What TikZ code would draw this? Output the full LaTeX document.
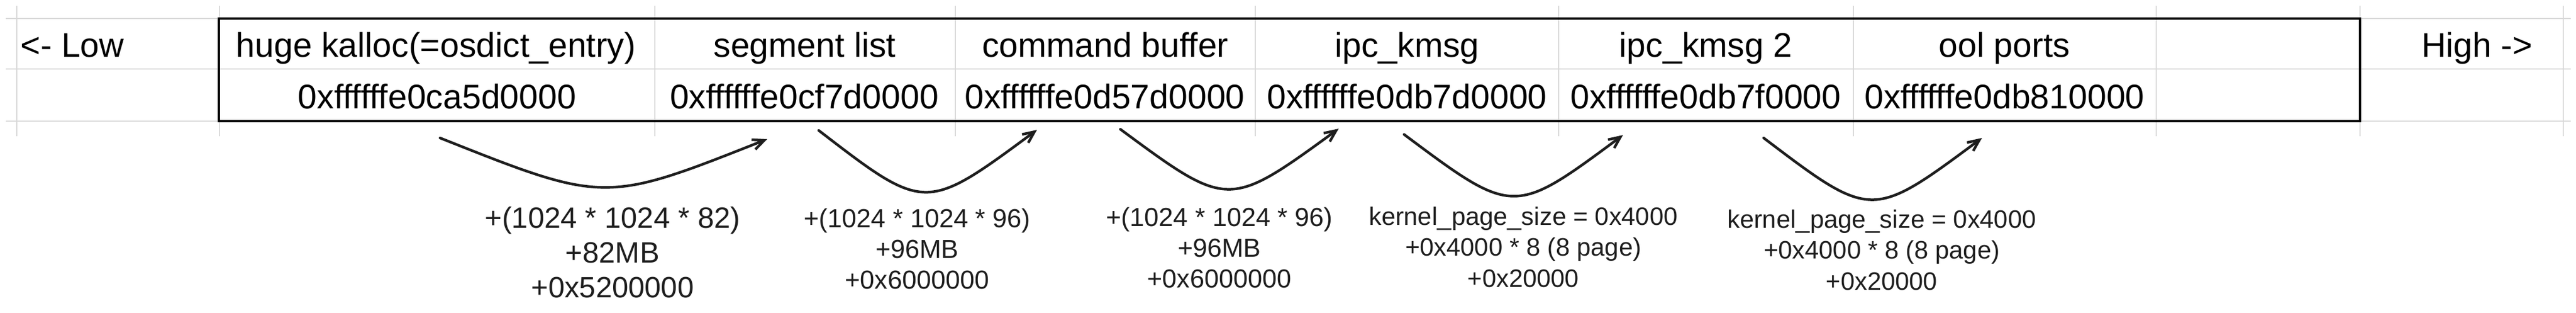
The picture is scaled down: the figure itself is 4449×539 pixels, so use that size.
\documentclass[tikz,border=0pt]{standalone}
\usepackage{fontspec}
\setmainfont{Liberation Sans}
\usepackage{tikz}
\usetikzlibrary{arrows.meta}
\usepackage{xcolor}
\definecolor{ColGrid}{RGB}{217,217,217}
\definecolor{ColInk}{RGB}{30,30,30}
\tikzstyle{GridLine}=[ColGrid,line width=2pt]
\tikzstyle{Frame}=[draw=black,line width=4pt]
\tikzstyle{CellText}=[inner sep=0pt,anchor=base,font=\fontsize{59pt}{70pt}\selectfont]
\tikzstyle{NoteBig}=[inner sep=0pt,anchor=base,align=center,text=ColInk,
font=\fontsize{50.7pt}{60pt}\selectfont]
\tikzstyle{NoteSmall}=[inner sep=0pt,anchor=base,align=center,text=ColInk,
font=\fontsize{45pt}{53pt}\selectfont]
\tikzstyle{Hop}=[ColInk,line width=4.5pt,line cap=round,
-{Straight Barb[length=20pt,width=18pt]}]

\begin{document}
\begin{tikzpicture}[x=1pt,y=-1pt]
        \useasboundingbox (0,0) rectangle (4449,539);
        % sheet grid
        \draw[GridLine](10,32)--(4440,32);
        \draw[GridLine](10,119)--(4440,119);
        \draw[GridLine](10,209)--(4440,209);
        \draw[GridLine](29,10)--(29,235);
        \draw[GridLine](379,10)--(379,235);
        \draw[GridLine](1131,10)--(1131,235);
        \draw[GridLine](1650,10)--(1650,235);
        \draw[GridLine](2168,10)--(2168,235);
        \draw[GridLine](2692,10)--(2692,235);
        \draw[GridLine](3201,10)--(3201,235);
        \draw[GridLine](3724,10)--(3724,235);
        \draw[GridLine](4076,10)--(4076,235);
        \draw[GridLine](4427,10)--(4427,235);
        \draw[Frame](378,32) rectangle (4076,209);
        % names
        \node[CellText](low)at(125,98){<- Low};
        \node[CellText](kalloc)at(753,98){huge kalloc(=osdict\_entry)};
        \node[CellText](seglist)at(1390,98){segment list};
        \node[CellText](cmdbuf)at(1909,98){command buffer};
        \node[CellText](kmsgA)at(2430,98){ipc\_kmsg};
        \node[CellText](kmsgB)at(2946,98){ipc\_kmsg 2};
        \node[CellText](oolports)at(3462,98){ool ports};
        \node[CellText](high)at(4278,98){High ->};
        % addresses
        \node[CellText](addrA)at(755,187){0xffffffe0ca5d0000};
        \node[CellText](addrB)at(1389,187){0xffffffe0cf7d0000};
        \node[CellText](addrC)at(1908,187){0xffffffe0d57d0000};
        \node[CellText](addrD)at(2430,187){0xffffffe0db7d0000};
        \node[CellText](addrE)at(2946,187){0xffffffe0db7f0000};
        \node[CellText](addrF)at(3462,187){0xffffffe0db810000};
        % offsets (base = last line)
        \node[NoteBig](noteA)at(1058,513){+(1024 * 1024 * 82)\\+82MB\\+0x5200000};
        \node[NoteSmall](noteB)at(1584,498){+(1024 * 1024 * 96)\\+96MB\\+0x6000000};
        \node[NoteSmall](noteC)at(2106,496){+(1024 * 1024 * 96)\\+96MB\\+0x6000000};
        \node[NoteSmall,font=\fontsize{43.5pt}{53.5pt}\selectfont](noteD)at(2631,495)
            {kernel\_page\_size = 0x4000\\+0x4000 * 8 (8 page)\\+0x20000};
        \node[NoteSmall,font=\fontsize{43.5pt}{53.5pt}\selectfont](noteE)at(3250,500)
            {kernel\_page\_size = 0x4000\\+0x4000 * 8 (8 page)\\+0x20000};
        % jumps
        \coordinate(sA)at(760,238);  \coordinate(eA)at(1325,240);
        \coordinate(sB)at(1414,225); \coordinate(eB)at(1791,224);
        \coordinate(sC)at(1935,223); \coordinate(eC)at(2312,222);
        \coordinate(sD)at(2425,232); \coordinate(eD)at(2803,233);
        \coordinate(sE)at(3046,238); \coordinate(eE)at(3423,238);
        \draw[Hop](sA)..controls +(284.5,113) and +(-280.5,111)..(eA);
        \draw[Hop](sB)..controls +(184,141.5) and +(-193,142.5)..(eB);
        \draw[Hop](sC)..controls +(186.5,137.5) and +(-190.5,138.5)..(eC);
        \draw[Hop](sD)..controls +(189,141) and +(-189,140)..(eD);
        \draw[Hop](sE)..controls +(186.5,141.3) and +(-190.5,141.3)..(eE);
    \end{tikzpicture}
\end{document}
